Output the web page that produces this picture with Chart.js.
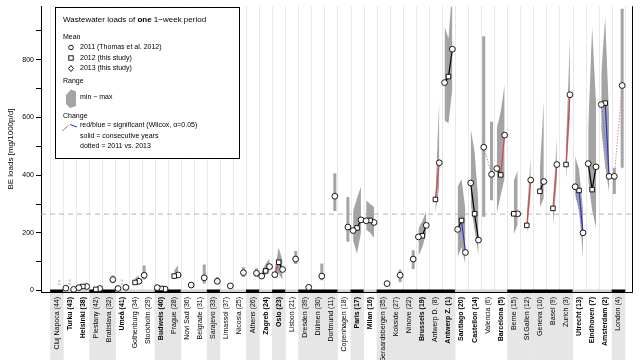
<!DOCTYPE html>
<html><head><meta charset="utf-8">
<script src="https://cdn.jsdelivr.net/npm/chart.js@4.4.1/dist/chart.umd.min.js"></script>
<style>html,body{margin:0;padding:0;background:#fff}</style>
</head><body>
<canvas id="c" width="640" height="360" style="width:640px;height:360px;display:block"></canvas>
<script>
const N = null;
const categories = ["Cluj Napoca (44)","Turku (43)","Helsinki (38)","Piestany (42)","Bratislava (32)","Umeå (41)","Gothenburg (34)","Stockholm (29)","Budweis (40)","Prague (28)","Novi Sad (36)","Belgrade (31)","Sarajevo (33)","Limassol (37)","Nicosia (25)","Athens (26)","Zagreb (24)","Oslo (23)","Lisbon (21)","Dresden (39)","Dülmen (30)","Dortmund (11)","Copenhagen (18)","Paris (17)","Milan (16)","Geraardsbergen (35)","Kokside (27)","Ninove (22)","Brussels (19)","Antwerp D. (8)","Antwerp Z. (1)","Santiago (20)","Castellon (14)","Valencia (6)","Barcelona (5)","Berne (15)","St.Gallen (12)","Geneva (10)","Basel (9)","Zurich (3)","Utrecht (13)","Eindhoven (7)","Amsterdam (2)","London (4)"];
const boldLabel = [0,1,1,0,0,1,0,0,1,0, 0,0,0,0,0,0,1,1,0,0, 0,0,0,1,1,0,0,0,1,0, 1,1,1,0,1,0,0,0,0,0, 1,1,1,0];
const countryShade = [1,0,0,1,1,0,0,0,1,1, 0,0,1,0,0,1,0,1,0,1, 1,1,0,1,0,1,1,1,1,1, 1,0,0,0,0,1,1,1,1,1, 0,0,0,1];

const mean2011 = [N,8,10,N,N,7,N,53,10,N, N,N,N,N,N,N,50,55,N,N, N,N,N,208,242,N,N,N,186,N, 721,212,373,497,423,N,N,N,N,N, 360,440,645,396];
const mean2012 = [N,N,14,4,N,N,28,N,7,50, N,N,N,N,N,N,68,98,N,N, N,N,N,217,243,N,N,N,190,316, 742,243,266,N,401,266,226,344,285,437, 347,350,650,N];
const mean2013 = [N,4,14,7,38,11,32,N,5,54, 19,44,32,16,62,60,83,73,109,11, 50,327,220,245,236,24,53,109,226,443, 837,132,175,403,539,266,383,378,437,679, 200,429,396,711];

const min2011 = [N,4,5,N,N,3,N,38,3,N, N,N,N,N,N,N,45,40,N,N, N,N,N,172,211,N,N,N,120,N, 590,115,300,256,268,N,N,N,N,N, 330,380,560,335];
const max2011 = [N,12,16,N,N,12,N,87,15,N, N,N,N,N,N,N,66,75,N,N, N,N,N,276,313,N,N,N,215,N, 916,360,562,882,562,N,N,N,N,N, 466,560,750,426];
const min2012 = [N,N,8,1,N,N,22,N,2,38, N,N,N,N,N,N,55,60,N,N, N,N,N,128,200,N,N,N,150,268, 580,150,210,N,330,194,194,290,228,386, 280,280,430,N];
const max2012 = [N,N,20,8,N,N,42,N,12,70, N,N,N,N,N,N,92,148,N,N, N,N,N,320,300,N,N,N,240,330, 874,386,480,N,620,380,260,420,300,500, 420,913,947,N];
const min2013 = [N,1,8,3,25,6,26,N,1,47, 15,24,22,13,47,47,65,36,92,8, 36,276,169,200,183,20,30,75,200,365, 700,90,120,313,390,230,330,320,380,600, 115,217,341,426];
const max2013 = [N,8,20,10,52,16,53,N,9,87, 24,90,47,19,81,77,112,105,137,13, 94,407,324,362,290,28,72,140,276,670, 1050,280,300,585,715,415,466,658,528,873, 280,650,600,977];

// faint (below quantification) 2012 ranges
const faintCity = [0,1,5];
const faintLow = [18,19,19];
const faintHigh = [41,41,41];

// [city, fromYear, toYear, kind]  kind: n = not significant, up = red, down = blue
const changes = [
 [2,2011,2012,'n'],[2,2012,2013,'n'],[3,2012,2013,'n'],[6,2012,2013,'n'],
 [8,2011,2012,'n'],[8,2012,2013,'n'],[9,2012,2013,'n'],
 [16,2011,2012,'n'],[16,2012,2013,'n'],[17,2011,2012,'up'],[17,2012,2013,'n'],
 [23,2011,2012,'n'],[23,2012,2013,'n'],[24,2011,2012,'n'],[24,2012,2013,'n'],
 [28,2011,2012,'n'],[28,2012,2013,'n'],[29,2012,2013,'up'],
 [30,2011,2012,'n'],[30,2012,2013,'n'],
 [31,2011,2012,'n'],[31,2012,2013,'down'],[32,2011,2012,'n'],[32,2012,2013,'n'],
 [33,2011,2013,'n'],[34,2011,2012,'n'],[34,2012,2013,'up'],[34,2011,2013,'up'],
 [35,2012,2013,'n'],[36,2012,2013,'up'],[37,2012,2013,'n'],[38,2012,2013,'up'],[39,2012,2013,'up'],
 [40,2011,2012,'n'],[40,2012,2013,'down'],[40,2011,2013,'down'],
 [41,2011,2012,'n'],[41,2012,2013,'n'],
 [42,2011,2012,'n'],[42,2012,2013,'down'],[42,2011,2013,'down'],
 [43,2011,2013,'up']
];
const refLevel = 265;
const yTicks = [0,100,200,300,400,500,600,700,800,900];

const FONT = '"Liberation Sans", Arial, Helvetica, sans-serif';
const years = [2011,2012,2013];
const offs = [-0.3,0,0.3];
const means = [mean2011,mean2012,mean2013];
const mins = [min2011,min2012,min2013];
const maxs = [max2011,max2012,max2013];
const XMIN = -1.2, XMAX = 44.13;
const GRAY = '#a4a4a4';

const datasets = [];
datasets.push({data:[{x:XMIN,y:refLevel},{x:XMAX,y:refLevel}], borderColor:'#b4b4b4', borderWidth:1, borderDash:[5,4], pointRadius:0, order:6});

for (let i=0;i<categories.length;i++){
  let run=[];
  const flush=()=>{
    if(run.length===1){
      const k=run[0];
      datasets.push({data:[{x:i+offs[k],y:mins[k][i]},{x:i+offs[k],y:maxs[k][i]}], borderColor:GRAY, borderWidth:3, borderCapStyle:'butt', pointRadius:0, order:4});
    } else if(run.length>1){
      datasets.push({data:run.map(k=>({x:i+offs[k],y:mins[k][i]})), borderWidth:0, borderColor:'rgba(0,0,0,0)', pointRadius:0, fill:false, order:4});
      datasets.push({data:run.map(k=>({x:i+offs[k],y:maxs[k][i]})), borderWidth:0, borderColor:'rgba(0,0,0,0)', pointRadius:0, fill:'-1', backgroundColor:GRAY, order:4});
    }
    run=[];
  };
  for(let k=0;k<3;k++){ if(mins[k][i]!=null) run.push(k); else flush(); }
  flush();
}
faintCity.forEach((c,j)=>{
  const xo = c===0?0.2:0;
  datasets.push({data:[{x:c+xo,y:faintLow[j]},{x:c+xo,y:faintHigh[j]}], borderColor:'#cdcdcd', borderWidth:2.5, borderDash:[2,1.5], borderCapStyle:'butt', pointRadius:0, order:3});
});
const changeColor = {n:'#000000', up:'#d24a4a', down:'#3030cc'};
const changeColorDot = {n:'#9a9a9a', up:'#e08a8a', down:'#6f6fd6'};
changes.forEach(([c,a,b,kind])=>{
  const ka=years.indexOf(a), kb=years.indexOf(b);
  const dotted = (b-a)===2;
  datasets.push({data:[{x:c+offs[ka],y:means[ka][c]},{x:c+offs[kb],y:means[kb][c]}],
    borderColor: dotted?changeColorDot[kind]:changeColor[kind], borderWidth: dotted?1:1.2,
    borderDash: dotted?[1.5,1.5]:[], pointRadius:0, order:2});
});
const pstyle = ['circle','rect','circle'];
for(let k=0;k<3;k++){
  const pts=[];
  means[k].forEach((v,i)=>{ if(v!=null) pts.push({x:i+offs[k],y:v}); });
  datasets.push({data:pts, showLine:false, pointStyle:pstyle[k], pointRadius:k===1?3.2:2.9,
    pointBorderWidth:0.9, pointBorderColor:'#000', pointBackgroundColor:'#fff', borderColor:'#000', backgroundColor:'#fff', order:0});
}

const deco = {
  id:'deco',
  beforeDraw(chart){
    const {ctx, chartArea:ca, scales:{x}} = chart;
    ctx.save();
    for(let i=0;i<categories.length;i++){
      if(countryShade[i]){
        const x0=x.getPixelForValue(i-0.5), x1=x.getPixelForValue(i+0.5);
        ctx.fillStyle='#e6e6e6';
        ctx.fillRect(x0,ca.bottom,x1-x0+0.5,360-ca.bottom);
      }
    }
    ctx.strokeStyle='#e9e9e9'; ctx.lineWidth=1;
    for(let i=0;i<=categories.length;i++){
      const px=Math.round(x.getPixelForValue(i-0.5))+0.5;
      ctx.beginPath(); ctx.moveTo(px,ca.top); ctx.lineTo(px,ca.bottom-2); ctx.stroke();
    }
    ctx.restore();
  },
  beforeDatasetsDraw(chart){
    const {ctx, chartArea:ca, scales:{x}} = chart;
    ctx.save();
    for(let i=0;i<categories.length;i++){
      const x0=x.getPixelForValue(i-0.5), x1=x.getPixelForValue(i+0.5);
      ctx.fillStyle=countryShade[i]?'#000':'#d4d4d4';
      ctx.fillRect(x0,ca.bottom-2.5,x1-x0+0.5,3);
    }
    ctx.strokeStyle='#000'; ctx.lineWidth=1;
    ctx.beginPath(); ctx.moveTo(ca.left,ca.bottom+0.5); ctx.lineTo(ca.right,ca.bottom+0.5); ctx.stroke();
    ctx.beginPath(); ctx.moveTo(ca.right-0.5,ca.top); ctx.lineTo(ca.right-0.5,ca.bottom+0.5); ctx.stroke();
    ctx.restore();
  },
  afterDatasetsDraw(chart){
    const ctx=chart.ctx;
    ctx.save();
    ctx.fillStyle='#fff'; ctx.strokeStyle='#000'; ctx.lineWidth=1;
    ctx.fillRect(55.5,7.5,184,151); ctx.strokeRect(55.5,7.5,184,151);
    ctx.fillStyle='#000'; ctx.textBaseline='middle'; ctx.textAlign='left';
    let tx=63; const ty=20;
    ctx.font='8px '+FONT; ctx.fillText('Wastewater loads of ',tx,ty); tx+=ctx.measureText('Wastewater loads of ').width;
    ctx.font='bold 8px '+FONT; ctx.fillText('one',tx,ty); tx+=ctx.measureText('one').width;
    ctx.font='8px '+FONT; ctx.fillText(' 1\u2212week period',tx,ty);
    ctx.font='7px '+FONT;
    ctx.fillText('Mean',63,37);
    ctx.fillText('2011 (Thomas et al. 2012)',80,47.5);
    ctx.fillText('2012 (this study)',80,58);
    ctx.fillText('2013 (this study)',80,68.5);
    ctx.fillText('Range',63,81);
    ctx.fillText('min \u2212 max',80,97);
    ctx.fillText('Change',63,116);
    ctx.fillText('red/blue = significant (Wilcox, \u03b1=0.05)',80,125.5);
    ctx.fillText('solid = consecutive years',80,136);
    ctx.fillText('dotted = 2011 vs. 2013',80,146);
    ctx.strokeStyle='#000'; ctx.lineWidth=0.9; ctx.fillStyle='#fff';
    ctx.beginPath(); ctx.arc(71,47.5,2.3,0,Math.PI*2); ctx.fill(); ctx.stroke();
    ctx.fillRect(68.8,55.8,4.4,4.4); ctx.strokeRect(68.8,55.8,4.4,4.4);
    ctx.beginPath(); ctx.moveTo(71,65.5); ctx.lineTo(73.5,68.5); ctx.lineTo(71,71.5); ctx.lineTo(68.5,68.5); ctx.closePath(); ctx.fill(); ctx.stroke();
    ctx.fillStyle=GRAY;
    ctx.beginPath(); ctx.moveTo(66,95); ctx.lineTo(71,89.5); ctx.lineTo(76,91.5); ctx.lineTo(76,106); ctx.lineTo(70,108); ctx.lineTo(66,104); ctx.closePath(); ctx.fill();
    ctx.lineWidth=1;
    ctx.strokeStyle='#d24a4a'; ctx.beginPath(); ctx.moveTo(62.5,131); ctx.lineTo(68,125.5); ctx.stroke();
    ctx.strokeStyle='#3030cc'; ctx.beginPath(); ctx.moveTo(70,124.5); ctx.lineTo(77,127); ctx.stroke();
    ctx.restore();
  }
};

new Chart(document.getElementById('c'), {
  type:'line',
  data:{datasets},
  options:{
    responsive:false, animation:false, devicePixelRatio:1,
    layout:{padding:{left:0,right:7,top:0,bottom:0}},
    plugins:{legend:{display:false}, tooltip:{enabled:false}},
    elements:{line:{tension:0}},
    scales:{
      x:{type:'linear', min:XMIN, max:XMAX,
        afterBuildTicks:s=>{ s.ticks = categories.map((_,i)=>({value:i})); },
        afterFit:s=>{ s.height=68; },
        grid:{display:false, drawTicks:false}, border:{display:false},
        ticks:{autoSkip:false, maxRotation:90, minRotation:90, padding:5, color:'#000',
          font:(ctx)=>({family:FONT, size:7, weight: boldLabel[ctx.index]?'bold':'normal'}),
          callback:(v,i)=>categories[i]}
      },
      y:{min:-5.1, max:986,
        afterBuildTicks:s=>{ s.ticks = yTicks.map(v=>({value:v})); },
        afterFit:s=>{ s.width=41; },
        grid:{drawOnChartArea:false, drawTicks:true, tickLength:5, color:'#000', lineWidth:1},
        border:{display:true, color:'#000', width:1},
        ticks:{padding:2, color:'#000', font:{family:FONT, size:7}, callback:v=> v%200===0? String(v):''},
        title:{display:true, text:'BE loads [mg/1000p/d]', color:'#000', font:{family:FONT, size:8}, padding:{top:6,bottom:0}}
      }
    }
  },
  plugins:[deco]
});
</script>
</body></html>
